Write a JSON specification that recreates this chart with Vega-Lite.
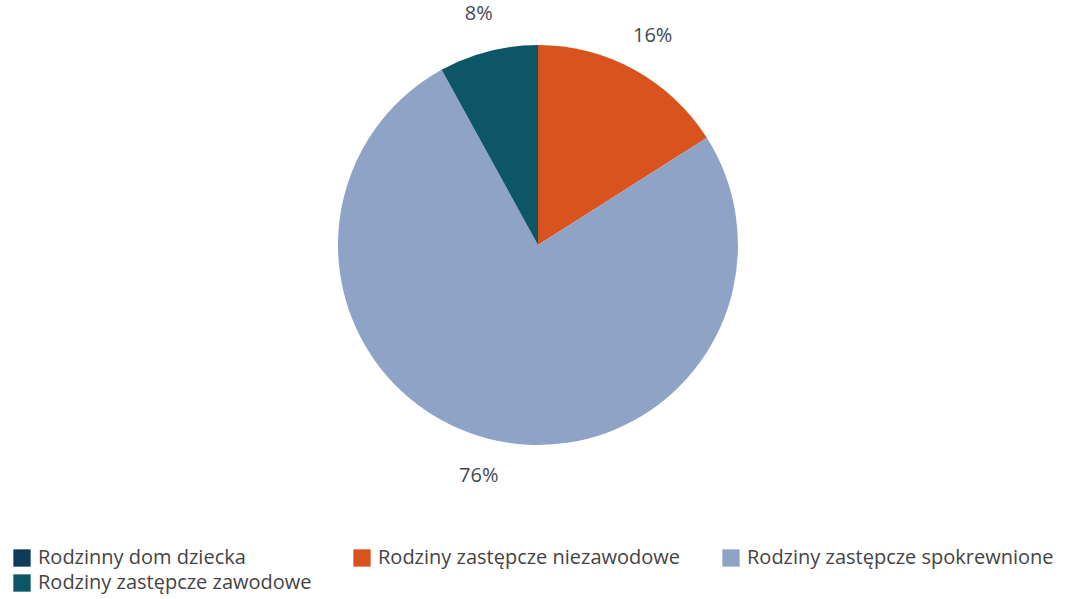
{
  "$schema": "https://vega.github.io/schema/vega-lite/v6.json",
  "autosize": "pad",
  "width": 1076,
  "height": 490,
  "padding": {"left": 0, "top": 0, "right": 0, "bottom": 12},
  "background": "white",
  "data": {
    "values": [
      {"kategoria": "Rodziny zastępcze niezawodowe", "udzial": 0.16, "kolejnosc": 1},
      {"kategoria": "Rodziny zastępcze spokrewnione", "udzial": 0.76, "kolejnosc": 2},
      {"kategoria": "Rodziny zastępcze zawodowe", "udzial": 0.08, "kolejnosc": 3},
      {"kategoria": "Rodzinny dom dziecka", "udzial": 0, "kolejnosc": 4}
    ]
  },
  "encoding": {
    "theta": {"field": "udzial", "type": "quantitative", "stack": true},
    "order": {"field": "kolejnosc", "type": "quantitative"},
    "color": {
      "field": "kategoria",
      "type": "nominal",
      "scale": {
        "domain": ["Rodzinny dom dziecka", "Rodziny zastępcze niezawodowe", "Rodziny zastępcze spokrewnione", "Rodziny zastępcze zawodowe"],
        "range": ["#0E3A5C", "#D9531E", "#8FA3C7", "#0D5666"]
      },
      "legend": {
        "orient": "none",
        "legendX": 12,
        "legendY": 548,
        "title": null,
        "direction": "horizontal",
        "columns": 3,
        "columnPadding": 40,
        "rowPadding": 5,
        "symbolType": "square",
        "symbolSize": 300,
        "symbolStrokeWidth": 0,
        "symbolOpacity": 1,
        "labelFont": "Open Sans",
        "labelFontSize": 20,
        "labelColor": "#444444",
        "labelOffset": 6,
        "labelLimit": 400
      }
    }
  },
  "layer": [
    {
      "mark": {"type": "arc", "outerRadius": 200, "stroke": null}
    },
    {
      "transform": [{"filter": "datum.udzial > 0"}],
      "mark": {"type": "text", "radius": 238, "font": "Open Sans", "fontSize": 20},
      "encoding": {
        "text": {"field": "udzial", "type": "quantitative", "format": ".0%"},
        "color": {"value": "#3F4955"}
      }
    }
  ]
}
